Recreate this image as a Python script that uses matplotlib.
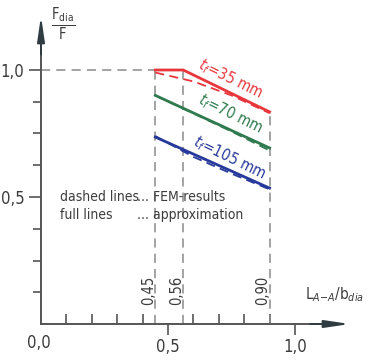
import numpy as np
import matplotlib
matplotlib.use("Agg")
import matplotlib.pyplot as plt
from matplotlib import font_manager

# Data
ratio_marks = [0.45, 0.56, 0.90]
mark_labels = ["0,45", "0,56", "0,90"]

red_full_x = [0.45, 0.56, 0.90]
red_full_y = [1.00, 1.00, 0.835]
red_fem_x = [0.45, 0.60, 0.75, 0.90]
red_fem_y = [0.99, 0.955, 0.90, 0.83]

green_full_x = [0.45, 0.90]
green_full_y = [0.90, 0.693]
green_fem_x = [0.45, 0.75, 0.90]
green_fem_y = [0.90, 0.758, 0.683]

blue_full_x = [0.45, 0.90]
blue_full_y = [0.736, 0.535]
blue_fem_x = [0.45, 0.60, 0.75, 0.90]
blue_fem_y = [0.74, 0.658, 0.592, 0.53]

curve_labels = ["$t_f$=35 mm", "$t_f$=70 mm", "$t_f$=105 mm"]

RED = "#e8363c"
GREEN = "#2f7a4e"
BLUE = "#27399a"
GREY = "#8a8a8a"
INK = "#3c3c3c"

# pick a narrow face if one is there
names = {f.name for f in font_manager.fontManager.ttflist}
narrow = [n for n in ['Liberation Sans Narrow', 'DejaVu Sans Condensed'] if n in names]
plt.rcParams['font.family'] = narrow + ['DejaVu Sans']
plt.rcParams['font.stretch'] = 'condensed'
plt.rcParams['mathtext.fontset'] = 'custom'
plt.rcParams['mathtext.rm'] = plt.rcParams['font.family'][0]
plt.rcParams['mathtext.it'] = plt.rcParams['font.family'][0] + ':italic'

fig = plt.figure(figsize=(3.67, 3.60), dpi=100)
ax = fig.add_axes([0, 0, 1, 1])
ax.set_xlim(-41 / 254, 326 / 254)
ax.set_ylim(-36 / 254, 324 / 254)
ax.patch.set_alpha(0)

# axes through the origin
for side in ['top', 'right']:
    ax.spines[side].set_visible(False)
ax.spines['left'].set_position(('data', 0))
ax.spines['bottom'].set_position(('data', 0))
ax.spines['left'].set_bounds(0, 1.1)
ax.spines['bottom'].set_bounds(0, 1.1)
for side in ['left', 'bottom']:
    ax.spines[side].set_color("#555555")
    ax.spines[side].set_linewidth(1.4)

arrow = dict(arrowstyle='-|>,head_length=1.5,head_width=0.22', color="#2f3c42", lw=1.4)
ax.annotate('', xy=(1.228, 0), xytext=(1.05, 0), arrowprops=arrow)
ax.annotate('', xy=(0, 1.224), xytext=(0, 1.05), arrowprops=arrow)

ax.set_xticks([0.5, 1.0], ["0,5", "1,0"])
ax.set_xticks([0.1, 0.2, 0.3, 0.4, 0.6, 0.7, 0.8, 0.9], minor=True)
ax.set_yticks([0.5, 1.0], ["0,5", "1,0"])
ax.set_yticks([0.125, 0.25, 0.375, 0.625, 0.75, 0.875], minor=True)
ax.tick_params(axis='x', which='major', direction='out', length=8, width=1.2,
               color="#555555", labelsize=12, labelcolor=INK, pad=2)
ax.tick_params(axis='x', which='minor', direction='in', length=7, width=1.2,
               color="#555555")
ax.tick_params(axis='y', which='major', direction='out', length=9, width=1.2,
               color="#555555", labelsize=12, labelcolor=INK, pad=3)
ax.tick_params(axis='y', which='minor', direction='out', length=6, width=1.2,
               color="#555555")
ax.text(-0.008, -0.075, "0,0", fontsize=12, color=INK, ha='center', va='center')

# guide lines
dash = dict(color=GREY, lw=1.1, ls=(0, (6, 4)))
ax.plot([0, 0.45], [1.0, 1.0], **dash)
ax.plot([0.45, 0.45], [0, 1.0], **dash)
ax.plot([0.56, 0.56], [0, 1.0], **dash)
ax.plot([0.90, 0.90], [0, red_full_y[-1]], **dash)
for xm, lab in zip(ratio_marks, mark_labels):
    ax.text(xm - 0.026, 0.134, lab, rotation=90, fontsize=10.5, color=INK,
            ha='center', va='center')

# curves
ax.plot(red_full_x, red_full_y, color=RED, lw=2)
ax.plot(red_fem_x, red_fem_y, color=RED, lw=1.3, ls=(0, (5, 3)))
ax.plot(green_full_x, green_full_y, color=GREEN, lw=2)
ax.plot(green_fem_x, green_fem_y, color=GREEN, lw=1.3, ls=(0, (5, 3)))
ax.plot(blue_full_x, blue_full_y, color=BLUE, lw=2)
ax.plot(blue_fem_x, blue_fem_y, color=BLUE, lw=1.3, ls=(0, (5, 3)))

for lab, col, (xt, yt) in zip(curve_labels, [RED, GREEN, BLUE],
                              [(0.748, 0.965), (0.748, 0.827), (0.744, 0.654)]):
    ax.text(xt, yt, lab, color=col, fontsize=11, rotation=-26,
            ha='center', va='center', rotation_mode='anchor')

# legend text
ax.text(0.075, 0.50, "dashed lines", fontsize=10, color=INK, va='center')
ax.text(0.378, 0.50, "... FEM-results", fontsize=10, color=INK, va='center')
ax.text(0.075, 0.43, "full lines", fontsize=10, color=INK, va='center')
ax.text(0.378, 0.43, "... approximation", fontsize=10, color=INK, va='center')

# axis labels
ax.text(1.04, 0.114, r"L$_{A\mathrm{-}A}$/b$_{dia}$", fontsize=11, color=INK,
        ha='left', va='center')
ax.text(0.087, 1.18, r"$\frac{\mathrm{F_{dia}}}{\mathrm{F}}$", fontsize=15, color=INK,
        ha='center', va='center')

fig.savefig("out.png", dpi=100)
